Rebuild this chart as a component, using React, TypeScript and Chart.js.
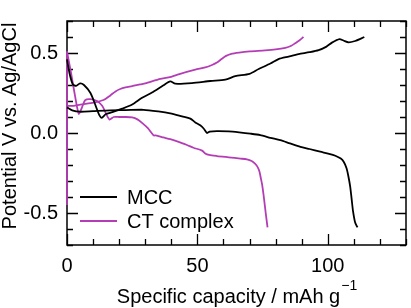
import { useEffect, useRef } from "react";
import { Chart, registerables } from "chart.js";

Chart.register(...registerables);

// Galvanostatic charge / discharge profiles (capacity in mAh/g, potential in V)
const mccChargeX = [0, 1, 2.2, 3.5, 5, 6.5, 9, 11, 12.3, 13.3, 14.8, 17.4, 21.2, 25, 28.8, 32.6, 37, 39.6, 41.5, 47.9, 55, 60.7, 64.5, 70, 73.5, 78, 81.1, 85, 88.8, 93, 96.5, 99.5, 101.6, 104.5, 106, 108, 110.5, 112.5, 114];
const mccChargeY = [0.46, 0.37, 0.305, 0.295, 0.31, 0.3, 0.25, 0.17, 0.115, 0.095, 0.117, 0.13, 0.152, 0.178, 0.22, 0.253, 0.298, 0.322, 0.308, 0.312, 0.325, 0.333, 0.355, 0.37, 0.4, 0.434, 0.462, 0.478, 0.493, 0.505, 0.518, 0.54, 0.565, 0.587, 0.578, 0.567, 0.575, 0.588, 0.6];

const mccDischargeX = [0, 2, 5, 10, 16.6, 22.4, 29.4, 35, 39.6, 44.1, 47.3, 49.2, 51.1, 52.4, 53.7, 54.7, 57.5, 62, 66, 70.3, 74.1, 78, 81.8, 85.5, 89.5, 93, 97.1, 100.5, 102.9, 105, 106.1, 107.2, 107.9, 108.6, 109.2, 109.7, 110.5, 111.4];
const mccDischargeY = [0.16, 0.142, 0.133, 0.137, 0.142, 0.143, 0.145, 0.135, 0.123, 0.104, 0.09, 0.066, 0.048, 0.028, 0.0, 0.008, 0.012, 0.01, 0.004, -0.004, -0.013, -0.03, -0.045, -0.065, -0.086, -0.1, -0.117, -0.13, -0.142, -0.16, -0.18, -0.22, -0.27, -0.335, -0.42, -0.49, -0.56, -0.59];

const ctChargeX = [0, 2.5, 5.1, 10.2, 14, 16.6, 18.6, 20.4, 22.4, 25, 28.1, 30, 35.8, 39, 43.4, 49.2, 53, 55.6, 57.5, 59.4, 61, 63, 66, 70, 76, 80, 83.7, 86, 87.5, 89.2, 90.7];
const ctChargeY = [0.17, 0.17, 0.178, 0.19, 0.206, 0.235, 0.26, 0.275, 0.285, 0.293, 0.304, 0.31, 0.338, 0.347, 0.37, 0.396, 0.41, 0.425, 0.44, 0.464, 0.482, 0.495, 0.503, 0.51, 0.516, 0.522, 0.532, 0.545, 0.561, 0.58, 0.6];

const ctDischargeX = [0, 1.5, 3, 4.5, 5.5, 7, 9, 11.5, 13.5, 15, 16.3, 17.9, 20, 22.4, 25, 27, 29, 31, 33.2, 34, 37, 39.6, 42.8, 46, 48.5, 51.8, 53, 54.5, 57.5, 62, 66.5, 69, 70.8, 72, 73, 73.8, 74.3, 74.8, 75.4, 76.2, 76.9];
const ctDischargeY = [0.51, 0.38, 0.24, 0.12, 0.15, 0.205, 0.212, 0.2, 0.17, 0.12, 0.084, 0.1, 0.1, 0.1, 0.097, 0.085, 0.06, 0.03, -0.015, -0.015, -0.028, -0.039, -0.055, -0.075, -0.092, -0.11, -0.128, -0.137, -0.144, -0.152, -0.16, -0.165, -0.175, -0.19, -0.21, -0.24, -0.28, -0.32, -0.39, -0.5, -0.59];

// Potential jump at zero capacity
const ctStepX = [0, 0];
const ctStepY = [-0.45, 0.51];

const xLabelValues = [0, 50, 100];
const yLabelValues = [-0.5, 0, 0.5];

const seriesNames = ["MCC", "CT complex"];

const X_MIN = 0;
const X_MAX = 130;
const Y_MIN = -0.7;
const Y_MAX = 0.7;

const FONT = '"Liberation Sans", Arial, Helvetica, sans-serif';
const BLACK = "#000000";
const MAGENTA = "#b43db6";
const seriesColors = [BLACK, MAGENTA];

const pts = (xs: number[], ys: number[]) => xs.map((x, i) => ({ x, y: ys[i] }));

// Box frame with inward ticks on all four sides
const frameAndTicks = {
  id: "frameAndTicks",
  beforeDatasetsDraw(chart: any) {
    const { ctx, chartArea, scales } = chart;
    const { left, right, top, bottom } = chartArea;
    const xs = scales.x;
    const ys = scales.y;
    ctx.save();
    ctx.strokeStyle = BLACK;
    ctx.lineWidth = 1.5;
    ctx.strokeRect(left, top, right - left, bottom - top);
    ctx.lineWidth = 1.3;
    ctx.beginPath();
    for (let i = 0; i <= 13; i++) {
      const v = i * 10;
      const px = Math.round(xs.getPixelForValue(v)) + 0.5;
      const len = v % 50 === 0 ? 11 : 6;
      ctx.moveTo(px, bottom);
      ctx.lineTo(px, bottom - len);
      ctx.moveTo(px, top);
      ctx.lineTo(px, top + len);
    }
    for (let i = -7; i <= 7; i++) {
      const v = i / 10;
      const py = Math.round(ys.getPixelForValue(v)) + 0.5;
      const len = i % 5 === 0 ? 11 : 6;
      ctx.moveTo(left, py);
      ctx.lineTo(left + len, py);
      ctx.moveTo(right, py);
      ctx.lineTo(right - len, py);
    }
    ctx.stroke();
    ctx.restore();
  },
};

// Axis titles (with superscript unit) and the in-plot legend
const titlesAndLegend = {
  id: "titlesAndLegend",
  afterDraw(chart: any) {
    const { ctx, chartArea } = chart;
    const { left, right, top, bottom } = chartArea;
    ctx.save();
    ctx.fillStyle = BLACK;

    // x title
    const main = "Specific capacity / mAh g";
    const sup = "\u22121";
    ctx.font = `20px ${FONT}`;
    const wMain = ctx.measureText(main).width;
    ctx.font = `14px ${FONT}`;
    const wSup = ctx.measureText(sup).width;
    const cx = (left + right) / 2;
    const startX = cx - (wMain + wSup) / 2;
    ctx.textBaseline = "alphabetic";
    ctx.textAlign = "left";
    ctx.font = `20px ${FONT}`;
    ctx.fillText(main, startX, 303);
    ctx.font = `14px ${FONT}`;
    ctx.fillText(sup, startX + wMain + 1, 290);

    // y title
    ctx.save();
    ctx.translate(10, (top + bottom) / 2 - 7);
    ctx.rotate(-Math.PI / 2);
    ctx.font = `20px ${FONT}`;
    ctx.textAlign = "center";
    ctx.textBaseline = "middle";
    ctx.fillText("Potential V vs. Ag/AgCl", 0, 0);
    ctx.restore();

    // legend
    ctx.font = `20px ${FONT}`;
    ctx.textAlign = "left";
    ctx.textBaseline = "middle";
    seriesNames.forEach((name, i) => {
      const ly = top + 176 + i * 24;
      ctx.strokeStyle = seriesColors[i];
      ctx.lineWidth = 1.8;
      ctx.beginPath();
      ctx.moveTo(left + 13, ly);
      ctx.lineTo(left + 50, ly);
      ctx.stroke();
      ctx.fillStyle = BLACK;
      ctx.fillText(name, left + 60, ly + 1);
    });
    ctx.restore();
  },
};

export default function App() {
  const canvasRef = useRef<HTMLCanvasElement | null>(null);

  useEffect(() => {
    if (!canvasRef.current) return;
    const lineBase = {
      pointRadius: 0,
      borderWidth: 1.8,
      fill: false,
      tension: 0.25,
      clip: false as const,
    };
    const chart = new Chart(canvasRef.current, {
      type: "line",
      data: {
        datasets: [
          { ...lineBase, label: "MCC charge", data: pts(mccChargeX, mccChargeY), borderColor: BLACK },
          { ...lineBase, label: "MCC discharge", data: pts(mccDischargeX, mccDischargeY), borderColor: BLACK },
          { ...lineBase, label: "CT step", data: pts(ctStepX, ctStepY), borderColor: MAGENTA, tension: 0 },
          { ...lineBase, label: "CT charge", data: pts(ctChargeX, ctChargeY), borderColor: MAGENTA },
          { ...lineBase, label: "CT discharge", data: pts(ctDischargeX, ctDischargeY), borderColor: MAGENTA },
        ],
      },
      options: {
        animation: false,
        responsive: false,
        events: [],
        layout: { padding: { top: 6, right: 5, left: 0, bottom: 0 } },
        plugins: { legend: { display: false }, tooltip: { enabled: false }, title: { display: false } },
        scales: {
          x: {
            type: "linear",
            min: X_MIN,
            max: X_MAX,
            grid: { display: false, drawTicks: false },
            border: { display: false },
            afterBuildTicks: (scale: any) => {
              scale.ticks = xLabelValues.map((v) => ({ value: v }));
            },
            afterFit: (scale: any) => {
              scale.height = 63;
            },
            ticks: {
              padding: 9,
              color: BLACK,
              font: { family: FONT, size: 20 },
              maxRotation: 0,
              autoSkip: false,
              callback: (v: any) => String(v),
            },
          },
          y: {
            type: "linear",
            min: Y_MIN,
            max: Y_MAX,
            grid: { display: false, drawTicks: false },
            border: { display: false },
            afterBuildTicks: (scale: any) => {
              scale.ticks = yLabelValues.map((v) => ({ value: v }));
            },
            afterFit: (scale: any) => {
              scale.width = 67;
            },
            ticks: {
              padding: 9,
              color: BLACK,
              font: { family: FONT, size: 20 },
              autoSkip: false,
              callback: (v: any) => Number(v).toFixed(1),
            },
          },
        },
      },
      plugins: [frameAndTicks, titlesAndLegend],
    });
    return () => chart.destroy();
  }, []);

  return (
    <div style={{ position: "fixed", left: 0, top: 0, width: 411, height: 308, background: "#fff" }}>
      <canvas ref={canvasRef} width={411} height={308} style={{ display: "block" }} />
    </div>
  );
}
